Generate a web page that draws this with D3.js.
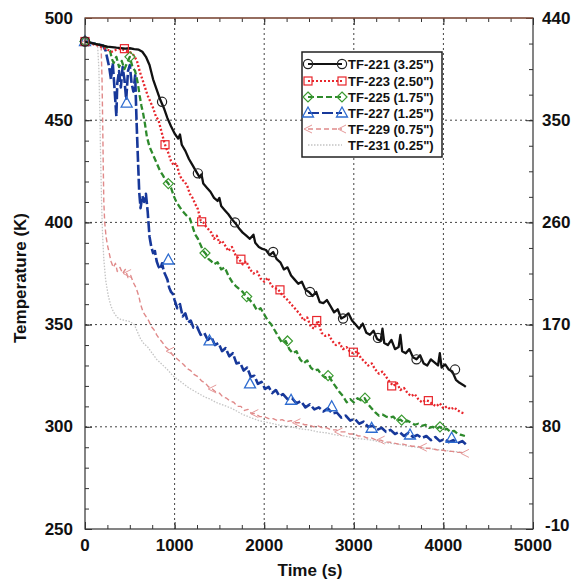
<!DOCTYPE html>
<html><head><meta charset="utf-8">
<script src="https://cdn.jsdelivr.net/npm/d3@7/dist/d3.min.js"></script>
<style>body{margin:0;background:#fff}svg{display:block}text{font-family:"Liberation Sans",Arial,sans-serif;font-weight:bold;fill:#111}</style>
</head><body><svg id="c" width="575" height="585"></svg>
<script>
// ---------- DATA ----------
const seriesNames = ["TF-221 (3.25\")","TF-223 (2.50\")","TF-225 (1.75\")","TF-227 (1.25\")","TF-229 (0.75\")","TF-231 (0.25\")"];
const xTicks = [0,1000,2000,3000,4000,5000];
const yTicksK = [250,300,350,400,450,500];
const yTicksF = [-10,80,170,260,350,440];

// [time s, temperature K]
const tf221 = [[0,488.5],[50,488],[100,487.5],[150,487],[200,486.5],[250,486],[300,485.8],[350,485.5],[400,485.3],[450,485],[500,485.2],[550,484.8],[600,484.5],[640,483.5],[680,481],[720,477],[760,470],[800,465],[840,460],[880,456],[920,451],[960,447],[1000,443.5],[1040,441],[1060,443],[1080,438],[1120,435],[1160,431],[1200,428],[1240,425],[1280,422],[1300,423.5],[1320,419],[1360,417],[1400,415],[1440,412],[1480,410.5],[1500,412],[1520,408],[1560,406],[1600,404],[1640,401.5],[1680,399.5],[1720,397],[1760,395],[1800,393.5],[1840,392],[1880,394],[1900,390],[1940,388],[1980,387],[2020,386.5],[2060,384],[2100,385.5],[2140,382],[2180,380.5],[2220,377],[2260,378],[2300,374],[2340,372],[2380,370],[2420,371],[2460,367],[2500,366],[2540,364],[2580,366],[2620,361],[2660,360.5],[2700,362],[2740,359],[2780,356],[2820,357.5],[2860,353],[2900,354],[2940,355.5],[2980,352],[3020,350],[3060,348],[3100,350.5],[3140,346],[3180,345],[3220,347],[3260,343],[3300,342],[3320,348],[3340,341],[3380,340],[3420,342.5],[3460,338],[3500,339],[3520,345],[3540,337],[3580,336],[3620,338],[3660,334],[3700,333],[3740,335],[3780,331],[3820,330],[3860,333],[3900,331.5],[3940,330],[3960,336],[3980,329],[4020,330.5],[4060,328],[4100,327],[4140,323],[4180,321.5],[4220,320.5],[4250,319.5]];
const tf223 = [[0,488.5],[50,488],[100,487],[150,486.5],[200,485.5],[250,484.5],[300,483.5],[350,484.5],[400,485],[450,484],[500,483.5],[540,482],[580,479],[610,474],[640,470],[670,466],[700,462],[730,459],[760,456],[790,452],[820,450],[850,445],[880,440],[900,437],[930,434],[960,430],[990,428],[1020,429],[1050,424],[1080,421],[1110,420],[1140,418],[1170,414],[1200,412],[1230,409],[1260,406.5],[1290,401],[1320,400],[1350,398],[1380,396.5],[1410,395],[1440,392],[1470,393.5],[1500,390],[1530,391],[1560,389],[1600,386],[1640,388],[1680,384],[1720,382],[1760,379.5],[1800,381],[1840,377],[1880,375],[1920,376],[1960,372.5],[2000,371],[2040,373],[2080,369],[2120,368],[2160,367],[2200,364.5],[2240,363],[2280,361],[2320,359],[2360,357],[2400,355],[2440,352],[2480,353.5],[2520,349],[2560,348],[2600,352],[2640,346],[2680,344.5],[2720,345],[2760,342],[2800,340],[2840,341],[2880,338],[2920,339],[2960,336.5],[3000,336],[3040,337],[3080,333.5],[3120,332],[3160,330],[3200,331],[3240,328],[3280,326],[3320,327],[3360,324.5],[3400,322],[3440,320],[3480,321.5],[3520,318],[3560,319],[3600,316.5],[3640,315],[3680,316],[3720,313.5],[3760,312],[3800,313],[3840,312.5],[3880,311],[3920,310],[3960,311.5],[4000,309],[4040,310],[4080,308.5],[4120,309.5],[4160,308],[4200,307],[4240,306.5]];
const tf225 = [[0,488.5],[50,488],[100,487.5],[150,487],[200,486.5],[250,485.5],[280,484],[300,480],[320,478],[350,481],[380,476],[410,479],[440,475],[470,478],[500,481],[530,476],[560,474],[590,468],[610,462],[630,457],[650,453],[670,448],[690,442],[720,437],[750,434],[780,431],[810,428],[840,425],[870,423],[900,420.5],[930,419],[960,417],[990,413],[1020,410],[1050,408],[1080,406],[1110,404.5],[1140,403],[1170,402],[1200,398],[1230,394],[1260,392],[1290,389],[1320,386],[1350,384.5],[1380,382],[1410,381],[1440,379.5],[1480,380.5],[1520,377],[1560,378],[1600,374],[1640,371],[1680,369],[1720,367.5],[1760,366],[1800,363.5],[1840,362],[1880,360],[1920,357],[1960,358],[2000,355],[2040,352],[2080,350],[2120,347],[2160,344],[2200,341],[2240,342],[2280,338],[2320,336],[2360,337],[2400,333],[2440,331],[2480,332.5],[2520,329],[2560,327.5],[2600,328],[2640,325.5],[2680,324],[2720,325],[2760,322],[2800,319.5],[2840,317],[2880,315],[2920,312],[2960,313.5],[3000,312],[3040,314],[3080,313],[3120,314],[3160,311],[3200,309],[3240,307],[3280,305.5],[3320,306],[3360,305],[3400,304.5],[3440,305],[3480,303],[3520,303.5],[3560,302],[3600,303],[3640,302],[3680,301],[3720,301.5],[3760,300.5],[3800,301],[3840,299.5],[3880,300],[3920,299],[3960,300],[4000,298.5],[4040,299],[4080,297.5],[4120,298],[4160,296.5],[4200,296],[4240,295.5]];
const tf227 = [[0,488.5],[50,488],[100,487.5],[150,487],[200,486.5],[230,484],[250,480],[270,476],[290,470],[310,478],[330,465],[350,452],[360,468],[380,474],[400,466],[420,476],[440,470],[460,460],[480,474],[500,477],[520,468],[540,464],[560,472],[575,450],[590,432],[605,415],[620,407],[640,413],[660,410],[680,414],[700,405],[720,393],[740,388],[760,385],[780,386],[800,381],[820,378.5],[840,377],[860,380],[880,376],[900,374],[920,372],[940,368],[960,366],[980,365],[1000,362],[1030,358],[1060,360],[1090,354],[1120,355.5],[1150,351],[1180,352],[1210,348.5],[1250,349],[1290,345],[1330,346],[1370,342.5],[1410,344],[1450,340],[1490,341],[1530,337],[1570,338.5],[1610,334.5],[1650,336],[1690,331],[1730,331.5],[1770,327.5],[1810,329],[1850,324.5],[1890,325],[1930,321],[1970,322],[2010,318.5],[2050,319.5],[2090,316.5],[2130,318],[2170,315],[2210,316],[2260,313.5],[2310,314],[2360,311.5],[2410,312.5],[2460,309.5],[2510,311],[2560,308.5],[2610,309.5],[2660,307.5],[2710,309],[2760,306.5],[2810,307],[2860,304.5],[2910,305.5],[2960,303],[3010,304],[3060,301.5],[3110,302.5],[3160,300],[3210,300.5],[3260,298.5],[3310,299.5],[3360,297.5],[3410,298.5],[3460,296.5],[3510,297.5],[3560,295.5],[3610,297],[3660,295],[3710,296],[3760,294.5],[3810,295.5],[3860,293.5],[3910,295],[3960,293],[4010,294],[4060,292.5],[4110,293.5],[4160,292],[4210,293],[4250,291.5]];
const tf229 = [[0,488],[50,488],[100,487.5],[150,487],[180,486],[190,470],[197,450],[203,430],[210,410],[220,400],[235,393],[250,389],[270,385],[290,381],[316,378],[340,380],[360,376],[390,378],[420,375],[450,377],[480,373],[510,374],[540,370.5],[570,368],[600,364],[620,360],[650,356],[680,354],[710,352],[740,349],[770,347.5],[800,345],[830,343],[860,341.5],[900,339],[940,337.5],[980,335],[1020,333.5],[1060,332],[1100,330.5],[1140,328.5],[1180,327.5],[1220,325.5],[1260,324.5],[1300,322.5],[1340,321.5],[1380,319.5],[1420,318.5],[1460,317],[1500,316.5],[1540,314.5],[1580,314],[1620,312.5],[1660,312],[1700,310],[1740,310],[1780,308],[1820,308.5],[1860,306.5],[1900,306.5],[1950,305],[2000,305],[2050,304],[2100,304],[2150,303],[2200,303.5],[2250,302.5],[2300,303],[2350,302],[2400,302],[2450,301],[2500,301],[2550,300],[2600,300.5],[2650,299.5],[2700,299.5],[2750,298.5],[2800,298.5],[2850,297.5],[2900,297.5],[2950,296.5],[3000,296.5],[3050,295.5],[3100,295.5],[3150,294.5],[3200,294.5],[3250,293.5],[3300,293.5],[3350,292.5],[3400,292.5],[3450,292],[3500,291.5],[3550,291.5],[3600,291],[3650,290.5],[3700,290.5],[3750,290],[3800,289.5],[3850,289.5],[3900,289],[3950,288.5],[4000,288.5],[4050,288],[4100,288],[4150,287.5],[4200,287.5],[4240,287]];
const tf231 = [[0,488],[50,488],[100,487.5],[140,487],[155,475],[165,455],[175,430],[185,410],[195,395],[210,382],[230,372],[260,364],[290,359],[320,356],[360,353.5],[400,352.5],[450,352],[500,351.5],[550,350],[580,347],[620,343],[660,340.5],[700,339],[750,336],[800,333],[860,330.5],[920,328],[980,325],[1040,323],[1100,321],[1160,319],[1220,317.5],[1280,316],[1340,314.5],[1400,313.5],[1460,312],[1520,311],[1580,310],[1640,309],[1700,307.5],[1760,306],[1820,305],[1880,304],[1940,303],[2000,302.5],[2100,301.5],[2200,300.5],[2300,300],[2400,299],[2500,298.5],[2600,297.5],[2700,297],[2800,296],[2900,295.5],[3000,294.5],[3100,294],[3200,293.5],[3300,292.5],[3400,292],[3500,291.5],[3600,290.5],[3700,290],[3800,289.5],[3900,289],[4000,288.5],[4100,288],[4200,287.5],[4240,287]];

// marker positions [time s, temperature K]
const mk221 = [[0,488.5],[860,459],[1260,424],[1674,400],[2100,385.5],[2511,366],[2880,353],[3270,343.5],[3700,333],[4130,328]];
const mk223 = [[0,488.5],[440,485],[893,438],[1302,400.3],[1740,382],[2176,367],[2586,352],[2995,336.5],[3423,320],[3832,312.8]];
const mk225 = [[0,488.5],[502,481],[930,419],[1339,385],[1805,363.7],[2260,342],[2713,325],[3125,314],[3534,303.3],[3962,300]];
const mk227 = [[0,488.5],[465,458.4],[930,381.6],[1390,342],[1842,321],[2300,313],[2753,309.8],[3199,299.3],[3627,296],[4092,294.4]];
const mk229 = [[0,488],[470,375],[950,337],[1420,318.5],[1890,306.5],[2360,302],[2830,297.5],[3300,293.5],[3770,290],[4240,287]];

// ---------- STYLE ----------
const styles = [
  {data:tf221, mk:mk221, line:"#111", mcol:"#222", w:2.3, dash:null, sym:"circle"},
  {data:tf223, mk:mk223, line:"#e8262c", mcol:"#e8262c", w:2.3, dash:"2,2", sym:"square"},
  {data:tf225, mk:mk225, line:"#2e8a2c", mcol:"#3a9a30", w:2.3, dash:"6,3", sym:"diamond"},
  {data:tf227, mk:mk227, line:"#17389a", mcol:"#2e6cd0", w:2.6, dash:"11,3", sym:"triangle"},
  {data:tf229, mk:mk229, line:"#e08a8a", mcol:"#e59a9a", w:1.4, dash:"5,3", sym:"lt"},
  {data:tf231, mk:[], line:"#c4c4c4", mcol:"#c4c4c4", w:1.3, dash:"1.5,1.5", sym:null}
];

const svg = d3.select("#c");
const L=85, R=533, T=18, B=529;
const x = d3.scaleLinear().domain([0,5000]).range([L,R]);
const y = d3.scaleLinear().domain([250,500]).range([B,T]);
const yF = d3.scaleLinear().domain([-10,440]).range([B,T]);

// gridlines
const grid = svg.append("g").attr("stroke","#444").attr("stroke-width",1).attr("stroke-dasharray","2,3");
xTicks.slice(1,-1).forEach(v=>grid.append("line").attr("x1",x(v)).attr("x2",x(v)).attr("y1",T).attr("y2",B));
yTicksK.slice(1,-1).forEach(v=>grid.append("line").attr("x1",L).attr("x2",R).attr("y1",y(v)).attr("y2",y(v)));

// axes with inward ticks
function mkAxis(gen, scale, ticks, size, tr){
  const g = svg.append("g").attr("transform",tr).call(gen(scale).tickValues(ticks).tickSize(size).tickFormat(""));
  g.select(".domain").remove();
  g.selectAll("line").attr("stroke","#333");
  return g;
}
const xMinor = d3.range(0,5001,250), yMinor = d3.range(250,501,10), fMinor = d3.range(-10,440.1,22.5);
mkAxis(d3.axisBottom, x, xMinor, -4, `translate(0,${B})`);
mkAxis(d3.axisBottom, x, xTicks, -7, `translate(0,${B})`);
mkAxis(d3.axisTop, x, xMinor, -4, `translate(0,${T})`);
mkAxis(d3.axisTop, x, xTicks, -7, `translate(0,${T})`);
mkAxis(d3.axisLeft, y, yMinor, -4, `translate(${L},0)`);
mkAxis(d3.axisLeft, y, yTicksK, -7, `translate(${L},0)`);
mkAxis(d3.axisRight, yF, fMinor, -4, `translate(${R},0)`);
mkAxis(d3.axisRight, yF, yTicksF, -7, `translate(${R},0)`);

// tick labels
const lab = svg.append("g").style("font-size","17px");
yTicksK.forEach(v=>lab.append("text").attr("x",73).attr("y",y(v)).attr("text-anchor","end").attr("dominant-baseline","central").text(v));
yTicksF.forEach(v=>lab.append("text").attr("x",v<0?545:542).attr("y",v<0?yF(v)-4:yF(v)).attr("text-anchor","start").attr("dominant-baseline","central").text(v));
xTicks.forEach(v=>lab.append("text").attr("x",x(v)).attr("y",545).attr("text-anchor","middle").attr("dominant-baseline","central").text(v));
svg.append("text").attr("x",310).attr("y",570).attr("text-anchor","middle").attr("dominant-baseline","central").style("font-size","17px").text("Time (s)");
svg.append("text").attr("transform","translate(20,278) rotate(-90)").attr("text-anchor","middle").attr("dominant-baseline","central").style("font-size","17px").text("Temperature (K)");

// plot clip
svg.append("clipPath").attr("id","clip").append("rect").attr("x",L).attr("y",T).attr("width",R-L).attr("height",B-T);

const line = d3.line().x(d=>x(d[0])).y(d=>y(d[1]));
const plot = svg.append("g").attr("clip-path","url(#clip)");
[5,4,3,2,1,0].forEach(i=>{
  const s = styles[i];
  plot.append("path").datum(s.data).attr("d",line).attr("fill","none").attr("stroke",s.line)
    .attr("stroke-width",s.w).attr("stroke-dasharray",s.dash).attr("stroke-linejoin","round");
});

function drawSym(g, sym, cx, cy, col, sc){
  sc = sc||1;
  if(sym==="circle") g.append("circle").attr("cx",cx).attr("cy",cy).attr("r",4.6*sc).attr("fill","none").attr("stroke",col).attr("stroke-width",1.2);
  else if(sym==="square") g.append("rect").attr("x",cx-4*sc).attr("y",cy-4*sc).attr("width",8*sc).attr("height",8*sc).attr("fill","none").attr("stroke",col).attr("stroke-width",1.2);
  else if(sym==="diamond") g.append("path").attr("d",`M${cx},${cy-5*sc}L${cx+5*sc},${cy}L${cx},${cy+5*sc}L${cx-5*sc},${cy}Z`).attr("fill","none").attr("stroke",col).attr("stroke-width",1.2);
  else if(sym==="triangle") g.append("path").attr("d",`M${cx},${cy-6*sc}L${cx+5.5*sc},${cy+4*sc}L${cx-5.5*sc},${cy+4*sc}Z`).attr("fill","none").attr("stroke",col).attr("stroke-width",1.3);
  else if(sym==="lt") g.append("path").attr("d",`M${cx+4*sc},${cy-4*sc}L${cx-4*sc},${cy}L${cx+4*sc},${cy+4*sc}`).attr("fill","none").attr("stroke",col).attr("stroke-width",1);
}
const mg = svg.append("g");
[4,3,2,1,0].forEach(i=>{
  const s = styles[i];
  s.mk.forEach(d=>drawSym(mg, s.sym, x(d[0]), y(d[1]), s.mcol));
});

// frame
svg.append("rect").attr("x",L).attr("y",T).attr("width",R-L).attr("height",B-T).attr("fill","none").attr("stroke","#333").attr("stroke-width",1.2);
svg.append("line").attr("x1",L).attr("x2",R).attr("y1",T).attr("y2",T).attr("stroke","#a8583c").attr("stroke-width",1.2);

// legend
const lg = svg.append("g");
lg.append("rect").attr("x",302).attr("y",52).attr("width",140).attr("height",105).attr("fill","#fff").attr("stroke","#222").attr("stroke-width",1.5);
const rowY = [64,81,97,113,129,145];
styles.forEach((s,i)=>{
  const yy = rowY[i];
  lg.append("line").attr("x1",308).attr("x2",342).attr("y1",yy).attr("y2",yy).attr("stroke",s.line).attr("stroke-width",Math.min(s.w,2)).attr("stroke-dasharray",s.dash);
  if(s.sym){ drawSym(lg,s.sym,308,yy,s.mcol); drawSym(lg,s.sym,342,yy,s.mcol); }
  lg.append("text").attr("x",348).attr("y",yy).attr("dominant-baseline","central").style("font-size","13px").text(seriesNames[i]);
});
</script></body></html>
